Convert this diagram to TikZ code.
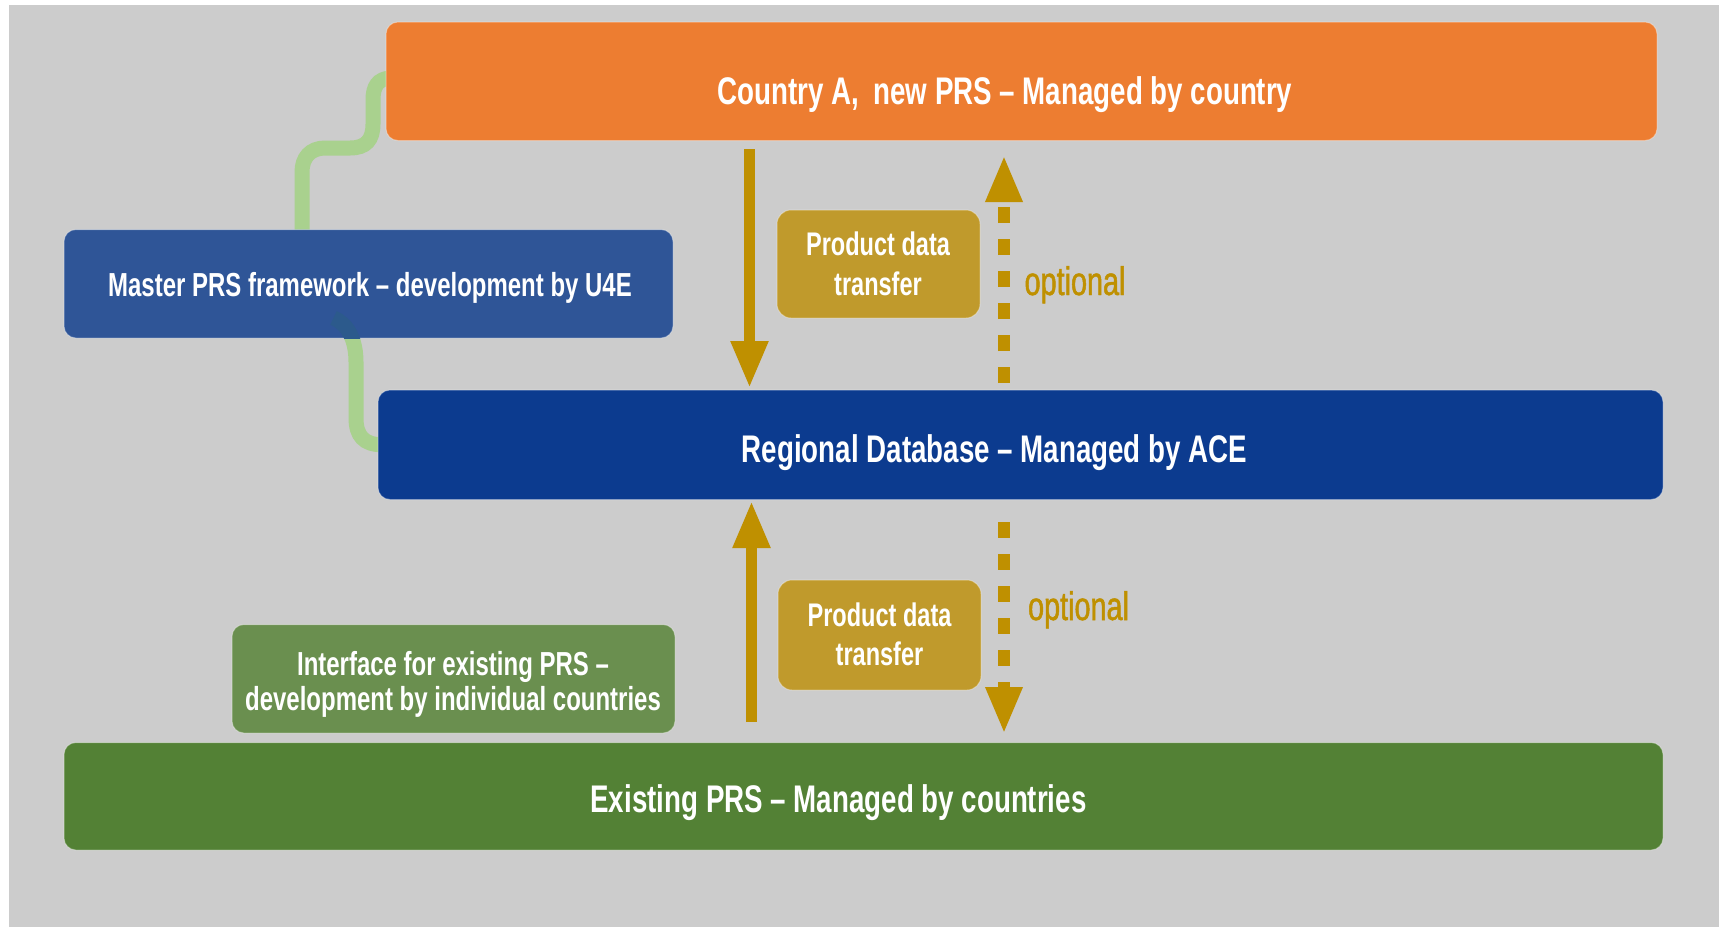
\documentclass[tikz,border=0pt]{standalone}
\usepackage{fontspec}
\newfontfamily\nb{Liberation Sans}[FakeStretch=0.72]
\newfontfamily\nopt{Liberation Sans}[FakeStretch=0.72, FakeBold=1.2]
\usetikzlibrary{arrows.meta,calc}
\definecolor{bgc}{HTML}{CCCCCC}
\definecolor{orangec}{HTML}{ED7D31}
\definecolor{masterc}{HTML}{2F5597}
\definecolor{regionc}{HTML}{0C3B8F}
\definecolor{interc}{HTML}{6A8F4F}
\definecolor{existc}{HTML}{538135}
\definecolor{prodc}{HTML}{C09A2C}
\definecolor{arrowc}{HTML}{BF9000}
\definecolor{bracec}{HTML}{A9D18E}
\definecolor{spotc}{HTML}{2C5A8C}
\tikzset{
  boxbase/.style={rectangle, rounded corners=12pt, inner sep=0pt, draw=white, draw opacity=0.35, line width=1pt},
  bigtxt/.style={anchor=base, inner sep=0pt, text=white, font=\nb\bfseries\fontsize{38.5}{46}\selectfont},
  midtxt/.style={anchor=base, inner sep=0pt, text=white, font=\nb\bfseries\fontsize{33.3}{40}\selectfont},
  opttxt/.style={anchor=base, inner sep=0pt, text=arrowc, font=\nopt\fontsize{40}{46}\selectfont},
  solidarrow/.style={draw=arrowc, line width=11pt, -{Triangle[length=47pt,width=35pt]}},
  dasharrow/.style={draw=arrowc, line width=12pt, dash pattern=on 16pt off 16pt, -{Triangle[length=47pt,width=34pt]}},
  bracepath/.style={draw=bracec, line width=15pt},
}
\begin{document}
\begin{tikzpicture}[x=1pt,y=-1pt]
\useasboundingbox (0,0) rectangle (1719,927);
\fill[white] (0,0) rectangle (1719,927);
\fill[bgc] (9,5) rectangle (1719,927);

% green brace connectors (behind boxes)
\coordinate (cw) at (390,78);
\coordinate (mtop) at (302,240);
\coordinate (mbot) at (333.5,318);
\coordinate (rw) at (382,444.75);
\draw[bracepath] (cw) .. controls (378,79) and (373,86) .. (373,100) -- (373,124)
   .. controls (373,140) and (366,148) .. (350,148) -- (325,148)
   .. controls (310,148) and (302,158) .. (302,172) -- (mtop);
\draw[bracepath] (mbot) .. controls (348,324) and (356,340) .. (356,362) -- (356,418)
   .. controls (356,436) and (364,444.75) .. (rw);

% boxes
\node[boxbase, fill=orangec, minimum width=1271pt, minimum height=118.5pt] (country) at (1021.5,81.25) {};
\node[boxbase, fill=masterc, minimum width=609pt, minimum height=108.5pt] (master) at (368.5,283.75) {};
\node[boxbase, fill=regionc, minimum width=1285pt, minimum height=109.5pt] (regional) at (1020.5,444.75) {};
\node[boxbase, fill=interc, minimum width=443pt, minimum height=108.5pt] (interface) at (453.5,678.75) {};
\node[boxbase, fill=existc, minimum width=1599pt, minimum height=107.5pt] (existing) at (863.5,796.25) {};
\node[boxbase, fill=prodc, rounded corners=14pt, minimum width=203pt, minimum height=108pt] (prod1) at (878.5,264) {};
\node[boxbase, fill=prodc, rounded corners=14pt, minimum width=203pt, minimum height=110pt] (prod2) at (879.5,635) {};

% brace showing through master box
\begin{scope}
  \clip (64,229.5) rectangle (673,338);
  \draw[draw=spotc, line width=15pt] (mbot) .. controls (348,324) and (356,340) .. (356,362);
\end{scope}

% texts
\node[bigtxt] (countrytxt) at (1005,104) {Country A,\, new PRS – Managed by country};
\node[midtxt] (mastertxt) at (370,296) {Master PRS framework – development by U4E};
\node[bigtxt] (regionaltxt) at (994.5,462) {Regional Database – Managed by ACE};
\node[bigtxt] (existingtxt) at (838.5,812.5) {Existing PRS – Managed by countries};
\node[midtxt, font=\nb\bfseries\fontsize{32.7}{40}\selectfont] (prod1txt) at (878,255)
  {\begin{tabular}[t]{@{}c@{}}Product data\\transfer\end{tabular}};
\node[midtxt, font=\nb\bfseries\fontsize{32.7}{38.5}\selectfont] (prod2txt) at (879.5,626.5)
  {\begin{tabular}[t]{@{}c@{}}Product data\\transfer\end{tabular}};
\node[midtxt, font=\nb\bfseries\fontsize{33.3}{35.7}\selectfont] (intertxt) at (453,675)
  {\begin{tabular}[t]{@{}c@{}}Interface for existing PRS –\\development by individual countries\end{tabular}};
\node[opttxt] (opt1) at (1075,295) {optional};
\node[opttxt] (opt2) at (1078.5,620) {optional};

% arrows
\coordinate (a1s) at (749.5,149);
\coordinate (a1e) at (749.5,388);
\coordinate (a2s) at (751.5,722);
\coordinate (a2e) at (751.5,501);
\coordinate (d1s) at (1004,383);
\coordinate (d1e) at (1004,155);
\coordinate (d2s) at (1004,522);
\coordinate (d2e) at (1004,734);
\draw[solidarrow] (a1s) -- (a1e);
\draw[solidarrow] (a2s) -- (a2e);
\draw[dasharrow] (d1s) -- (d1e);
\draw[dasharrow] (d2s) -- (d2e);
\end{tikzpicture}
\end{document}
